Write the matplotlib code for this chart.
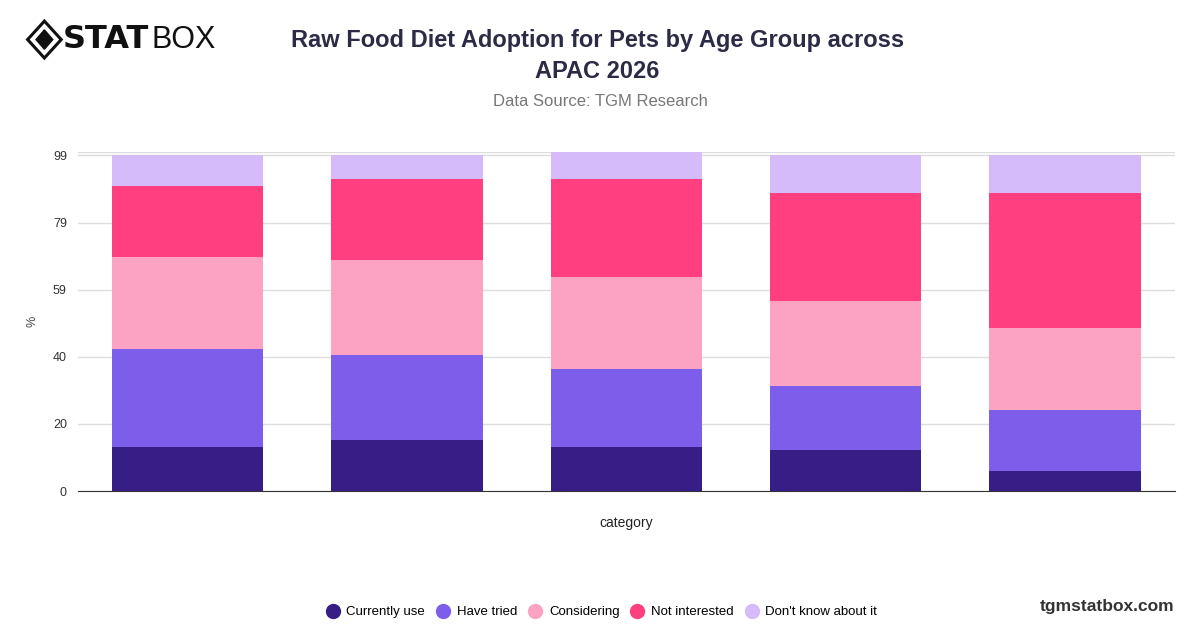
import matplotlib
matplotlib.use("Agg")
from matplotlib import pyplot as plt
from matplotlib.lines import Line2D
from matplotlib.patches import Polygon
import numpy as np

# data
categories = ["", "", "", "", ""]
series_names = ["Currently use", "Have tried", "Considering", "Not interested", "Don't know about it"]
currently_use = [13, 15, 13, 12, 6]
have_tried = [29, 25, 23, 19, 18]
considering = [27, 28, 27, 25, 24]
not_interested = [21, 24, 29, 32, 40]
dont_know = [9, 7, 8, 11, 11]
colors = ["#371E86", "#7C5EEB", "#FCA2C3", "#FF3F80", "#D5BBFA"]

plt.rcParams['font.family'] = ['Liberation Sans', 'DejaVu Sans']

fig = plt.figure(figsize=(12, 6.28), dpi=100)
ax = fig.add_axes([0.065, 0.218, 0.914, 0.540])

x = np.arange(len(categories))
bottom = np.zeros(len(categories))
for name, vals, col in zip(series_names,
                           [currently_use, have_tried, considering, not_interested, dont_know],
                           colors):
    ax.bar(x, vals, bottom=bottom, width=0.69, color=col, label=name, zorder=3)
    bottom += np.array(vals)

ymax = bottom.max()
ax.set_xlim(-0.5, len(categories) - 0.5)
ax.set_ylim(0, ymax)
ticks = np.linspace(0, 99, 6)
ax.set_yticks(ticks)
ax.set_yticklabels([str(int(round(t))) for t in ticks], fontsize=9, color="#333333")
ax.set_xticks([])
ax.grid(axis="y", color="#dddddd", linewidth=1, zorder=0)
ax.axhline(ymax, color="#dddddd", linewidth=1, zorder=0)
for s in ["top", "right", "left"]:
    ax.spines[s].set_visible(False)
ax.spines["bottom"].set_color("#333333")
ax.tick_params(axis="y", length=0, pad=8)
ax.set_xlabel("category", fontsize=10, color="#222222", labelpad=18)
ax.set_ylabel("%", fontsize=9, color="#444444", labelpad=10)

# title
fig.text(0.498, 0.935, "Raw Food Diet Adoption for Pets by Age Group across",
         ha="center", va="center", fontsize=17, fontweight="bold", color="#2b2b45")
fig.text(0.498, 0.886, "APAC 2026", ha="center", va="center",
         fontsize=17, fontweight="bold", color="#2b2b45")
fig.text(0.5, 0.838, "Data Source: TGM Research", ha="center", va="center",
         fontsize=12, color="#777777")

# logo
cx, cy = 0.037, 0.937
d = 0.014
fig.patches.append(Polygon([[cx, cy + 2.1 * d], [cx + d, cy], [cx, cy - 2.1 * d], [cx - d, cy]],
                           closed=True, fill=False, edgecolor="#111111", linewidth=2.2,
                           transform=fig.transFigure))
fig.patches.append(Polygon([[cx, cy + 1.1 * d], [cx + 0.5 * d, cy], [cx, cy - 1.1 * d], [cx - 0.5 * d, cy]],
                           closed=True, color="#111111", transform=fig.transFigure))
fig.text(0.052, 0.937, "STAT", ha="left", va="center", fontsize=23, fontweight="heavy",
         color="#111111", family="DejaVu Sans")
fig.text(0.126, 0.937, "BOX", ha="left", va="center", fontsize=22, color="#111111")

# legend
handles = [Line2D([0], [0], marker="o", linestyle="", markersize=10, markerfacecolor=c,
                  markeredgecolor=c) for c in colors]
fig.legend(handles, series_names, loc="center", bbox_to_anchor=(0.5, 0.025), ncol=5,
           frameon=False, fontsize=9.5, handletextpad=0.3, columnspacing=0.6,
           handlelength=1.5)

fig.text(0.979, 0.035, "tgmstatbox.com", ha="right", va="center", fontsize=12.5,
         fontweight="bold", color="#333333")

fig.savefig("out.png", dpi=100)
